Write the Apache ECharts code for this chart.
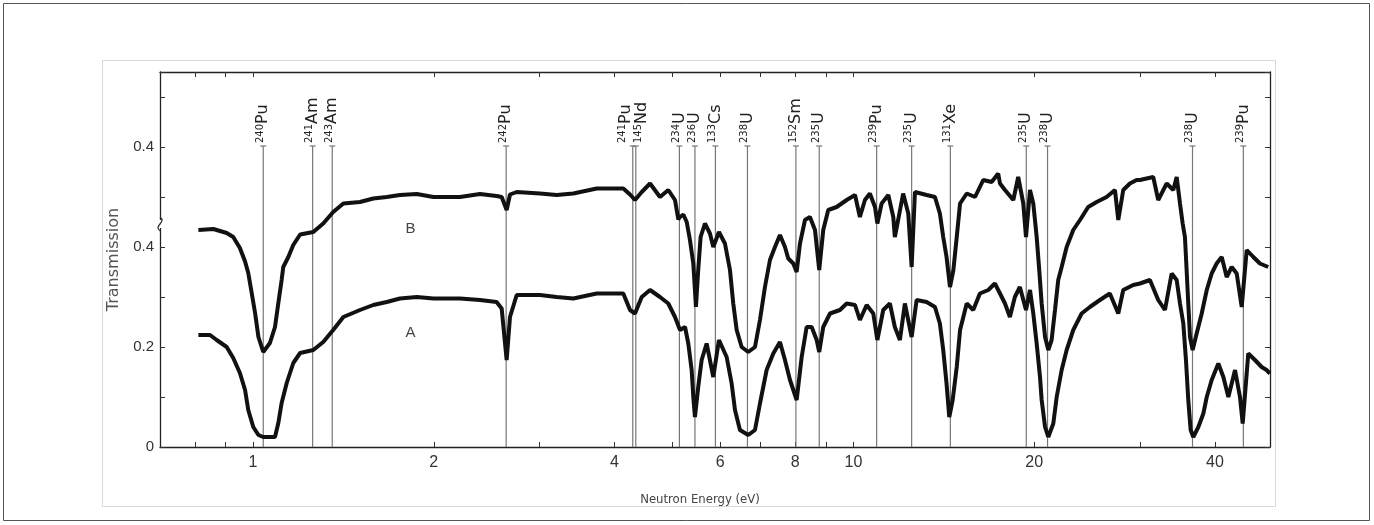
<!DOCTYPE html>
<html>
<head>
<meta charset="utf-8">
<title>Neutron transmission</title>
<script src="https://cdn.jsdelivr.net/npm/echarts@6/dist/echarts.min.js"></script>
<style>
html, body { margin: 0; padding: 0; background: #fff; }
#main { width: 1374px; height: 525px; }
</style>
</head>
<body>
<div id="main"></div>
<script>
// curve A : energy (eV) / transmission
var energyA = [0.811, 0.848, 0.870, 0.904, 0.927, 0.951, 0.970, 0.982, 1.001, 1.021, 1.040, 1.088, 1.102, 1.116, 1.138, 1.167, 1.198,
  1.26, 1.309, 1.36, 1.414, 1.507, 1.586, 1.67, 1.757, 1.874, 1.997,
  2.212, 2.388, 2.545, 2.595, 2.645, 2.679, 2.749, 3.006, 3.204, 3.415,
  3.736, 3.981, 4.137, 4.245, 4.327, 4.44, 4.584, 4.762, 4.916, 5.044, 5.142, 5.242, 5.308, 5.377, 5.411, 5.445, 5.514, 5.587, 5.695, 5.842,
  5.970, 6.149, 6.268, 6.349, 6.471, 6.680, 6.855, 6.987, 7.168, 7.353, 7.544, 7.690, 7.840, 8.043, 8.199, 8.357, 8.519, 8.685, 8.770, 8.906, 9.140, 9.495, 9.743, 10.06,
  10.25, 10.52, 10.79, 10.96, 11.21, 11.50, 11.72, 11.95, 12.18, 12.50, 12.74, 13.24, 13.67, 13.93, 14.11, 14.29, 14.44, 14.63, 14.86, 15.05, 15.44, 15.83, 16.24, 16.77, 17.20,
  17.54, 17.88, 18.22, 18.57, 18.93, 19.38, 19.68, 19.93, 20.19, 20.45, 20.58, 20.85, 21.11, 21.52, 21.80, 22.22, 22.65, 23.23, 23.99, 24.76, 25.73, 26.73, 27.61, 28.14, 29.24,
  30.0, 31.17, 32.18, 33.02, 33.88, 34.54, 34.98, 35.43, 35.79, 36.11, 36.44, 36.81, 37.53, 38.26, 38.76, 39.50, 40.52, 41.31, 42.11, 43.20, 44.03, 44.49, 45.45, 46.63, 47.84, 48.75, 49.39];
var transA = [0.224, 0.224, 0.214, 0.2, 0.178, 0.148, 0.114, 0.074, 0.04, 0.024, 0.02, 0.02, 0.048, 0.088, 0.128, 0.168, 0.188,
  0.194, 0.21, 0.234, 0.26, 0.274, 0.284, 0.29, 0.297, 0.3, 0.297,
  0.297, 0.294, 0.29, 0.277, 0.174, 0.26, 0.304, 0.304, 0.3, 0.297,
  0.307, 0.307, 0.307, 0.274, 0.267, 0.3, 0.314, 0.3, 0.287, 0.26, 0.234, 0.24, 0.207, 0.154, 0.1, 0.06, 0.12, 0.174, 0.207, 0.14,
  0.214, 0.18, 0.127, 0.074, 0.034, 0.024, 0.034, 0.087, 0.154, 0.187, 0.21, 0.174, 0.134, 0.094, 0.18, 0.24, 0.24, 0.214, 0.19, 0.24, 0.267, 0.274, 0.287, 0.284,
  0.254, 0.284, 0.267, 0.214, 0.274, 0.287, 0.24, 0.214, 0.287, 0.22, 0.294, 0.29, 0.28, 0.247, 0.194, 0.127, 0.06, 0.094, 0.16, 0.234, 0.287, 0.274, 0.307, 0.314, 0.327,
  0.307, 0.287, 0.26, 0.3, 0.32, 0.274, 0.314, 0.267, 0.207, 0.14, 0.094, 0.04, 0.02, 0.047, 0.1, 0.154, 0.194, 0.234, 0.267, 0.28, 0.294, 0.307, 0.267, 0.314, 0.324,
  0.327, 0.334, 0.294, 0.274, 0.347, 0.334, 0.287, 0.247, 0.174, 0.094, 0.034, 0.02, 0.04, 0.067, 0.1, 0.134, 0.167, 0.14, 0.1, 0.154, 0.1, 0.047, 0.187, 0.174, 0.16, 0.154, 0.147];

// curve B : energy (eV) / transmission, drawn shifted up by offsetB
var energyB = [0.811, 0.859, 0.904, 0.927, 0.951, 0.970, 0.982, 0.995, 1.008, 1.021, 1.040, 1.067, 1.088, 1.102, 1.116, 1.123, 1.145, 1.167, 1.198,
  1.26, 1.309, 1.36, 1.414, 1.507, 1.586, 1.67, 1.757, 1.874, 1.997,
  2.212, 2.388, 2.545, 2.595, 2.645, 2.679, 2.749, 3.006, 3.204, 3.415,
  3.736, 3.981, 4.137, 4.245, 4.327, 4.44, 4.584, 4.762, 4.916, 5.044, 5.109, 5.142, 5.208, 5.276, 5.342, 5.411, 5.445, 5.466, 5.514, 5.565, 5.658, 5.768, 5.842,
  5.970, 6.109, 6.228, 6.307, 6.390, 6.513, 6.680, 6.855, 6.987, 7.122, 7.260, 7.401, 7.544, 7.690, 7.788, 7.940, 8.043, 8.146, 8.304, 8.464, 8.629, 8.770, 8.906, 9.079, 9.376, 9.743, 10.06,
  10.25, 10.45, 10.65, 10.86, 10.96, 11.14, 11.43, 11.65, 11.72, 11.87, 12.10, 12.34, 12.50, 12.66, 13.24, 13.67, 13.93, 14.11, 14.29, 14.48, 14.67, 14.86, 15.05, 15.44, 15.94, 16.45, 16.99, 17.42,
  17.54, 17.88, 18.46, 18.81, 19.18, 19.38, 19.68, 19.93, 20.19, 20.39, 20.58, 20.85, 21.11, 21.38, 21.66, 21.93, 22.22, 22.65, 23.23, 23.84, 24.60, 25.41, 26.40, 27.26, 27.61, 28.14, 28.87, 29.62,
  30.0, 31.57, 32.18, 33.24, 34.09, 34.54, 34.98, 35.34, 35.65, 35.88, 36.11, 36.35, 36.72, 37.29, 38.02, 38.76, 39.50, 40.26, 41.05, 41.84, 42.65, 43.48, 44.32, 45.18, 46.34, 47.53, 49.06];
var transB = [0.234, 0.236, 0.228, 0.22, 0.198, 0.171, 0.148, 0.108, 0.068, 0.02, -0.01, 0.008, 0.04, 0.088, 0.134, 0.16, 0.18, 0.204, 0.225,
  0.23, 0.247, 0.27, 0.287, 0.29, 0.297, 0.3, 0.304, 0.306, 0.3,
  0.3, 0.306, 0.302, 0.3, 0.274, 0.305, 0.31, 0.307, 0.304, 0.307,
  0.317, 0.317, 0.317, 0.305, 0.294, 0.31, 0.327, 0.3, 0.314, 0.294, 0.255, 0.26, 0.265, 0.25, 0.214, 0.167, 0.114, 0.08, 0.154, 0.22, 0.247, 0.227, 0.2,
  0.23, 0.207, 0.154, 0.087, 0.034, 0.0, -0.01, 0.0, 0.054, 0.12, 0.174, 0.2, 0.224, 0.2, 0.177, 0.167, 0.15, 0.207, 0.254, 0.26, 0.234, 0.154, 0.234, 0.274, 0.28, 0.294, 0.304,
  0.26, 0.294, 0.307, 0.28, 0.247, 0.287, 0.304, 0.26, 0.22, 0.254, 0.307, 0.267, 0.16, 0.31, 0.304, 0.3, 0.267, 0.22, 0.18, 0.12, 0.154, 0.22, 0.287, 0.307, 0.3, 0.334, 0.33, 0.347,
  0.327, 0.314, 0.294, 0.34, 0.287, 0.22, 0.314, 0.287, 0.22, 0.154, 0.087, 0.02, -0.006, 0.014, 0.074, 0.134, 0.16, 0.2, 0.234, 0.254, 0.28, 0.29, 0.3, 0.314, 0.254, 0.314, 0.327, 0.334,
  0.334, 0.34, 0.294, 0.327, 0.314, 0.34, 0.287, 0.247, 0.22, 0.154, 0.087, 0.02, -0.006, 0.027, 0.067, 0.114, 0.147, 0.167, 0.18, 0.14, 0.16, 0.147, 0.08, 0.194, 0.18, 0.167, 0.16];
var offsetB = 0.2;

// resonance markers
var lineEnergy = [1.04, 1.257, 1.355, 2.64, 4.29, 4.34, 5.13, 5.445, 5.89, 6.66, 8.02, 8.77, 10.93, 12.5, 14.5, 19.4, 21.05, 36.7, 44.6];
var lineMass = ['240', '241', '243', '242', '241', '145', '234', '236', '133', '238', '152', '235', '239', '235', '131', '235', '238', '238', '239'];
var lineElem = ['Pu', 'Am', 'Am', 'Pu', 'Pu', 'Nd', 'U', 'U', 'Cs', 'U', 'Sm', 'U', 'Pu', 'U', 'Xe', 'U', 'U', 'U', 'Pu'];
var lineTop = 0.602;

var xMinE = 0.7, xMaxE = 49.4;
var xTickE = [0.8, 0.9, 1, 2, 3, 4, 5, 6, 7, 8, 9, 10, 20, 30, 40];
var xLabelE = [1, 2, 4, 6, 8, 10, 20, 40];
var yLabelText = { 0: '0', 2: '0.2', 4: '0.4', 6: '0.4' };

var lg = function (v) { return Math.log10(v); };
function pairs(es, ts, off) {
  return es.map(function (e, i) { return [lg(e), ts[i] + off]; });
}

var myChart = echarts.init(document.getElementById('main'));

var axisCommon = {
  type: 'value',
  min: lg(xMinE),
  max: lg(xMaxE),
  splitLine: { show: false },
  axisLine: { show: true, onZero: false, lineStyle: { color: '#222', width: 1.3 } },
  axisTick: { inside: true, length: 5, customValues: xTickE.map(lg), lineStyle: { color: '#333' } }
};
var yCommon = {
  type: 'value', min: 0, max: 0.75, interval: 0.1,
  splitLine: { show: false },
  axisLine: { show: true, onZero: false, lineStyle: { color: '#222', width: 1.3 } },
  axisTick: { inside: true, length: 5, lineStyle: { color: '#333' } }
};

var option = {
  backgroundColor: '#fff',
  animation: false,
  grid: { left: 160, right: 104, top: 72, bottom: 78 },
  xAxis: [
    Object.assign({}, axisCommon, {
      position: 'bottom',
      name: 'Neutron Energy (eV)',
      nameLocation: 'middle',
      nameGap: 46,
      nameTextStyle: { fontFamily: "'Liberation Sans Narrow','DejaVu Sans Condensed',sans-serif", fontSize: 13, color: '#444', padding: [0, 30, 0, 0] },
      axisLabel: {
        customValues: xLabelE.map(lg),
        margin: 8,
        fontFamily: 'Liberation Sans, Arial, sans-serif',
        fontSize: 16,
        color: '#333',
        formatter: function (v) { return String(Math.round(Math.pow(10, v))); }
      }
    }),
    Object.assign({}, axisCommon, { position: 'top', axisLabel: { show: false } })
  ],
  yAxis: [
    Object.assign({}, yCommon, {
      position: 'left',
      name: 'Transmission', nameLocation: 'middle', nameGap: 31, nameRotate: 90,
      nameTextStyle: { fontFamily: 'DejaVu Sans, sans-serif', fontSize: 16, color: '#555' },
      axisLabel: {
        margin: 6, fontFamily: 'Liberation Sans, Arial, sans-serif', fontSize: 15, color: '#333',
        formatter: function (v) { var k = Math.round(v * 10); return yLabelText[k] !== undefined ? yLabelText[k] : ''; }
      }
    }),
    Object.assign({}, yCommon, { position: 'right', axisLabel: { show: false } })
  ],
  series: [
    {
      type: 'custom',
      name: 'markers',
      silent: true,
      z: 1,
      data: lineEnergy.map(function (e, i) { return [lg(e), i]; }),
      renderItem: function (params, api) {
        var i = api.value(1);
        var p0 = api.coord([api.value(0), 0]);
        var p1 = api.coord([api.value(0), lineTop]);
        var shift = 0;
        if (i < lineEnergy.length - 1 && api.coord([lg(lineEnergy[i + 1]), 0])[0] - p0[0] < 10) shift = -7;
        if (i > 0 && p0[0] - api.coord([lg(lineEnergy[i - 1]), 0])[0] < 10) shift = 6;
        return {
          type: 'group',
          children: [
            { type: 'line', shape: { x1: p0[0], y1: p0[1], x2: p1[0], y2: p1[1] }, style: { stroke: '#777', lineWidth: 1.2 } },
            { type: 'line', shape: { x1: p1[0] - 3, y1: p1[1], x2: p1[0] + 3, y2: p1[1] }, style: { stroke: '#777', lineWidth: 1.2 } },
            {
              type: 'text',
              x: p1[0] + shift,
              y: p1[1] - 3,
              rotation: Math.PI / 2,
              style: {
                text: '{m|' + lineMass[i] + '}{e|' + lineElem[i] + '}',
                align: 'left',
                verticalAlign: 'middle',
                fill: '#222',
                rich: {
                  m: { fontFamily: 'DejaVu Sans, sans-serif', fontSize: 10, verticalAlign: 'top', fill: '#222' },
                  e: { fontFamily: 'DejaVu Sans, sans-serif', fontSize: 16, verticalAlign: 'bottom', fill: '#222' }
                }
              }
            }
          ]
        };
      }
    },
    {
      type: 'line',
      name: 'A',
      z: 3,
      showSymbol: false,
      symbol: 'none',
      lineStyle: { color: '#111', width: 4 },
      data: pairs(energyA, transA, 0),
      markPoint: {
        symbol: 'circle', symbolSize: 1, itemStyle: { color: 'rgba(0,0,0,0)' },
        label: { show: true, position: 'inside', color: '#444', fontFamily: 'Liberation Sans, Arial, sans-serif', fontSize: 15, formatter: 'A' },
        data: [{ coord: [lg(1.83), 0.228] }]
      }
    },
    {
      type: 'line',
      name: 'B',
      z: 3,
      showSymbol: false,
      symbol: 'none',
      lineStyle: { color: '#111', width: 4 },
      data: pairs(energyB, transB, offsetB),
      markPoint: {
        symbol: 'circle', symbolSize: 1, itemStyle: { color: 'rgba(0,0,0,0)' },
        label: { show: true, position: 'inside', color: '#444', fontFamily: 'Liberation Sans, Arial, sans-serif', fontSize: 15, formatter: 'B' },
        data: [{ coord: [lg(1.83), 0.236 + offsetB] }]
      }
    }
  ]
};

myChart.setOption(option);

// frames and the axis break mark
var brk = myChart.convertToPixel({ gridIndex: 0 }, [lg(xMinE), 0.446]);
myChart.setOption({
  graphic: [
    { type: 'rect', silent: true, shape: { x: 3.5, y: 3.5, width: 1366, height: 517 }, style: { fill: null, stroke: '#555', lineWidth: 1 } },
    { type: 'rect', silent: true, shape: { x: 102.5, y: 60.5, width: 1173, height: 446 }, style: { fill: null, stroke: '#d8d8d8', lineWidth: 1 } },
    { type: 'rect', silent: true, z: 10, shape: { x: brk[0] - 2, y: brk[1] - 4, width: 4, height: 8 }, style: { fill: '#fff' } },
    {
      type: 'bezierCurve', silent: true, z: 11,
      shape: { x1: brk[0], y1: brk[1] - 7, x2: brk[0], y2: brk[1] + 7, cpx1: brk[0] + 7, cpy1: brk[1] - 2, cpx2: brk[0] - 7, cpy2: brk[1] + 2 },
      style: { fill: null, stroke: '#333', lineWidth: 1.3 }
    }
  ]
});
</script>
</body>
</html>
